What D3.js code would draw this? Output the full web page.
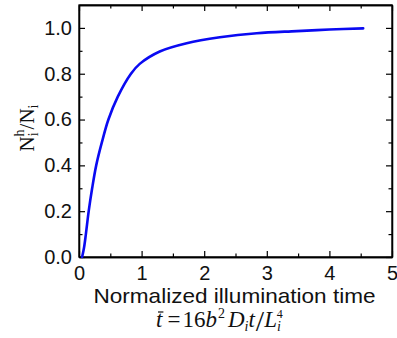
<!DOCTYPE html>
<html><head><meta charset="utf-8">
<script src="https://cdn.jsdelivr.net/npm/d3@7"></script>
<style>
html,body{margin:0;padding:0;background:#fff;}
svg{display:block;}
</style></head>
<body>
<svg id="chart" width="397" height="338"></svg>
<script>
// ---- data ----
const tValues = [0.05, 0.08, 0.11, 0.155, 0.21, 0.275, 0.365, 0.47, 0.62, 0.83, 0.97, 1.29, 1.72, 2.25, 2.84, 3.48, 4.0, 4.54];
const ratioValues = [0.0, 0.04, 0.1, 0.2, 0.3, 0.4, 0.5, 0.6, 0.7, 0.8, 0.843, 0.897, 0.933, 0.959, 0.977, 0.986, 0.993, 0.998];
const xTicks = [0, 1, 2, 3, 4, 5];
const xMinorTicks = [0.5, 1.5, 2.5, 3.5, 4.5];
const yTicks = [0.0, 0.2, 0.4, 0.6, 0.8, 1.0];
const yMinorTicks = [0.1, 0.3, 0.5, 0.7, 0.9];
const xLabel = "Normalized illumination time";

const svg = d3.select("#chart");
const L = 79, R = 392, T = 5, B = 257;
const x = d3.scaleLinear().domain([0, 5]).range([L, R]);
const y = d3.scaleLinear().domain([0, 1.1]).range([B, T]);

const sans = "'Liberation Sans', Arial, sans-serif";
const serif = "'Liberation Serif', 'Times New Roman', serif";

function styleAxis(g) {
  g.selectAll("path.domain").attr("stroke", "#000").attr("stroke-width", 1.3);
  g.selectAll(".tick line").attr("stroke", "#000").attr("stroke-width", 1.2);
  g.selectAll("text").attr("font-family", sans).attr("font-size", 20).attr("fill", "#111");
}

// bottom axis
svg.append("g").attr("transform", `translate(0,${B})`)
  .call(d3.axisBottom(x).tickValues(xTicks).tickFormat(d3.format("d")).tickSizeInner(-6).tickSizeOuter(0).tickPadding(9))
  .call(styleAxis);
svg.append("g").attr("transform", `translate(0,${B})`)
  .call(d3.axisBottom(x).tickValues(xMinorTicks).tickFormat("").tickSizeInner(-3.5).tickSizeOuter(0))
  .call(styleAxis);
// top axis
svg.append("g").attr("transform", `translate(0,${T})`)
  .call(d3.axisTop(x).tickValues(xTicks).tickFormat("").tickSizeInner(-6).tickSizeOuter(0))
  .call(styleAxis);
svg.append("g").attr("transform", `translate(0,${T})`)
  .call(d3.axisTop(x).tickValues(xMinorTicks).tickFormat("").tickSizeInner(-3.5).tickSizeOuter(0))
  .call(styleAxis);
// left axis
svg.append("g").attr("transform", `translate(${L},0)`)
  .call(d3.axisLeft(y).tickValues(yTicks).tickFormat(d3.format(".1f")).tickSizeInner(-6).tickSizeOuter(0).tickPadding(7))
  .call(styleAxis);
svg.append("g").attr("transform", `translate(${L},0)`)
  .call(d3.axisLeft(y).tickValues(yMinorTicks).tickFormat("").tickSizeInner(-3.5).tickSizeOuter(0))
  .call(styleAxis);
// right axis
svg.append("g").attr("transform", `translate(${R},0)`)
  .call(d3.axisRight(y).tickValues(yTicks).tickFormat("").tickSizeInner(-6).tickSizeOuter(0))
  .call(styleAxis);
svg.append("g").attr("transform", `translate(${R},0)`)
  .call(d3.axisRight(y).tickValues(yMinorTicks).tickFormat("").tickSizeInner(-3.5).tickSizeOuter(0))
  .call(styleAxis);

// frame
svg.append("rect").attr("x", L).attr("y", T).attr("width", R - L).attr("height", B - T)
  .attr("fill", "none").attr("stroke", "#000").attr("stroke-width", 1.3);

// curve
const pts = tValues.map((t, i) => [t, ratioValues[i]]);
svg.append("path").datum(pts)
  .attr("fill", "none").attr("stroke", "#0a0af2").attr("stroke-width", 2.6)
  .attr("stroke-linecap", "round")
  .attr("d", d3.line().x(d => x(d[0])).y(d => y(d[1])).curve(d3.curveCatmullRom.alpha(0.5)));

// x label
svg.append("text").attr("x", (L + R) / 2 - 1).attr("y", 303)
  .attr("text-anchor", "middle").attr("font-family", sans).attr("font-size", 21)
  .attr("textLength", 282).attr("lengthAdjust", "spacingAndGlyphs")
  .attr("fill", "#111").text(xLabel);

// formula
const f = svg.append("text").attr("x", 156).attr("y", 327)
  .attr("font-family", serif).attr("font-size", 23).attr("fill", "#111");
f.append("tspan").attr("font-style", "italic").text("t");
f.append("tspan").attr("dx", 5).text("=");
f.append("tspan").attr("dx", 2).text("16");
f.append("tspan").attr("font-style", "italic").text("b");
f.append("tspan").attr("font-size", 14).attr("dx", 1).attr("dy", -9).text("2");
f.append("tspan").attr("font-style", "italic").attr("dx", 3).attr("dy", 9).text("D");
f.append("tspan").attr("font-style", "italic").attr("font-size", 14).attr("dy", 4).text("i");
f.append("tspan").attr("font-style", "italic").attr("dy", -4).text("t");
f.append("tspan").attr("font-size", 30).attr("dx", 1).attr("dy", 4).text("/");
f.append("tspan").attr("font-style", "italic").attr("dy", -4).text("L");
f.append("tspan").attr("font-style", "italic").attr("font-size", 14).attr("dy", 4).text("i");
f.append("tspan").attr("font-size", 12).attr("dx", -4).attr("dy", -13).text("4");
// overbar on t
const ext = f.node().getExtentOfChar(0);
svg.append("line").attr("x1", ext.x + 2).attr("x2", ext.x + ext.width + 1)
  .attr("y1", ext.y + 5).attr("y2", ext.y + 5).attr("stroke", "#111").attr("stroke-width", 1.2);

// y label
const yl = svg.append("text").attr("transform", "translate(34,128) rotate(-90)")
  .attr("text-anchor", "middle").attr("font-family", serif).attr("font-size", 21).attr("fill", "#111");
yl.append("tspan").text("N");
yl.append("tspan").attr("font-size", 14).attr("dy", 4).text("i");
yl.append("tspan").attr("font-size", 14).attr("dx", -4).attr("dy", -14).text("h");
yl.append("tspan").attr("dy", 10).text("/N");
yl.append("tspan").attr("font-size", 14).attr("dy", 4).text("i");
</script>
</body></html>
